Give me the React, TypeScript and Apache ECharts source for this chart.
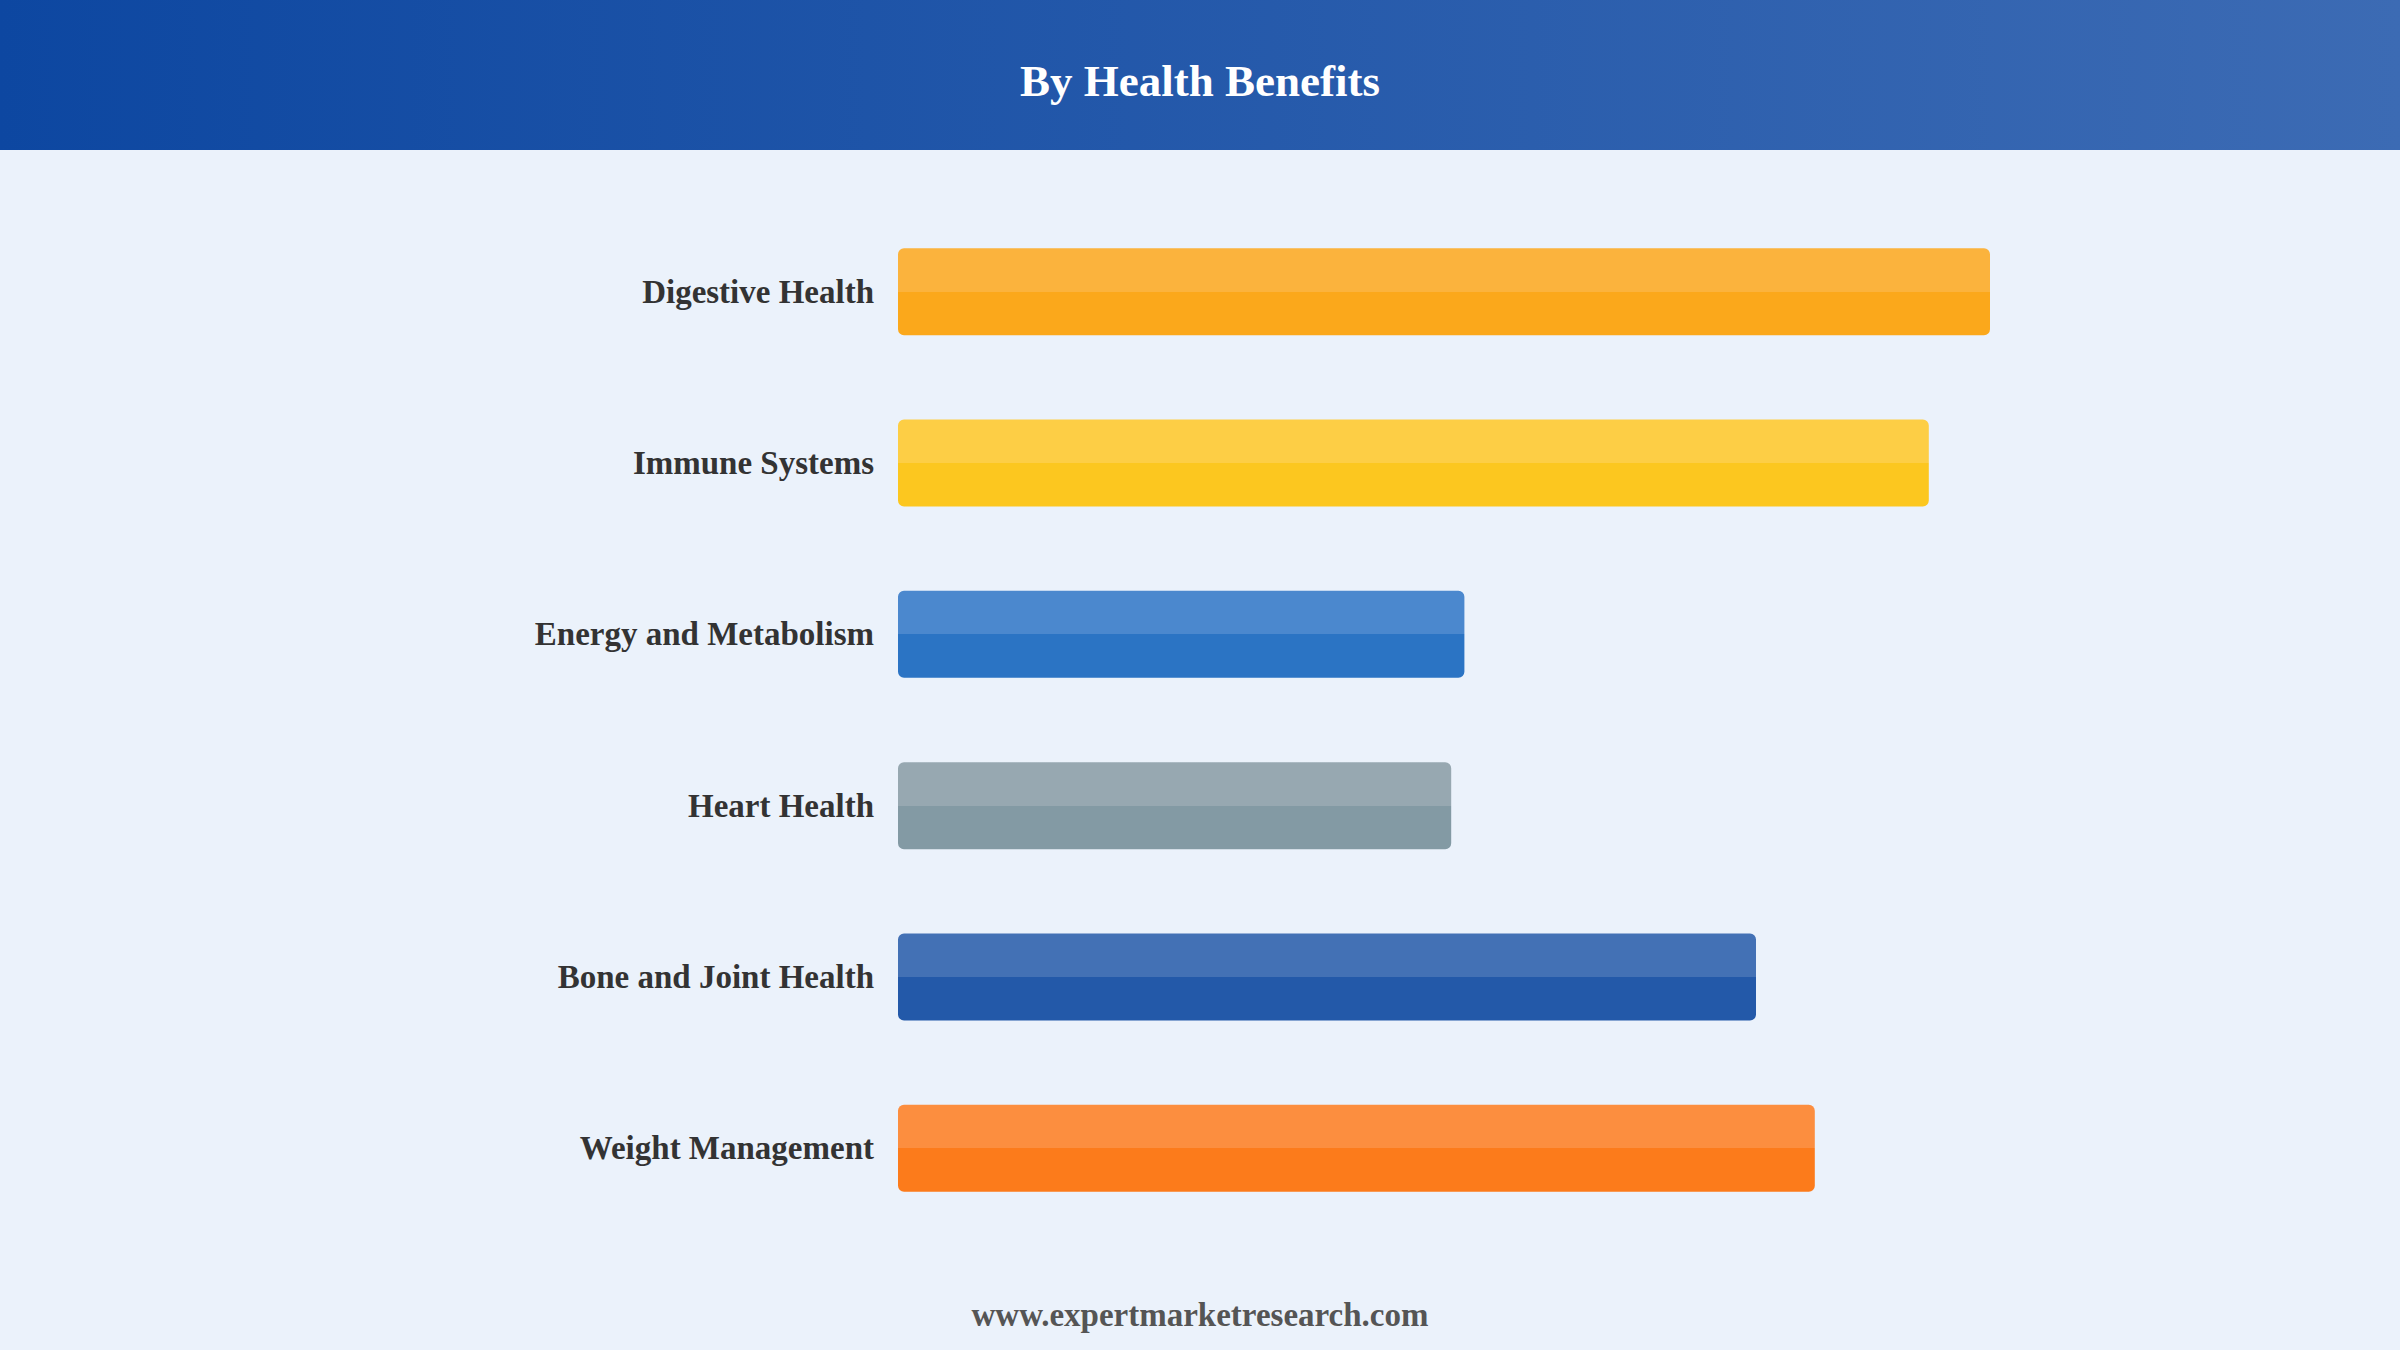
import { useEffect, useRef } from "react";
import * as echarts from "echarts";

const categories = [
  "Digestive Health",
  "Immune Systems",
  "Energy and Metabolism",
  "Heart Health",
  "Bone and Joint Health",
  "Weight Management",
];
const values = [91, 85.9, 47.2, 46.1, 71.5, 76.4];
const topColors = ["#FBB33D", "#FDCE45", "#4B88CE", "#97A8B1", "#4371B5", "#FC8E3F"];
const baseColors = ["#FBA81B", "#FCC71F", "#2B74C4", "#839AA4", "#2359A9", "#FC7B1B"];

const SERIF = "'Liberation Serif', 'Times New Roman', serif";

export default function App() {
  const chartRef = useRef<HTMLDivElement>(null);

  useEffect(() => {
    document.body.style.margin = "0";
    if (!chartRef.current) return;
    const chart = echarts.init(chartRef.current, undefined, { renderer: "svg" });

    // two-tone bars: lighter top half, base colour bottom half
    const data = values.map((v, i) => ({
      value: v,
      itemStyle: {
        borderRadius: 6,
        color: new echarts.graphic.LinearGradient(0, 0, 0, 1, [
          { offset: 0, color: topColors[i] },
          { offset: 0.5, color: topColors[i] },
          { offset: 0.5, color: baseColors[i] },
          { offset: 1, color: baseColors[i] },
        ]),
      },
    }));

    chart.setOption({
      animation: false,
      backgroundColor: "#EBF2FB",
      graphic: [
        {
          type: "rect",
          left: 0,
          top: 0,
          z: -1,
          shape: { width: 2400, height: 150 },
          style: {
            fill: new echarts.graphic.LinearGradient(0, 0, 1, 0, [
              { offset: 0, color: "#0D47A1" },
              { offset: 1, color: "#3C6BB4" },
            ]),
          },
        },
        {
          type: "text",
          x: 1200,
          y: 81,
          style: {
            text: "By Health Benefits",
            fill: "#FFFFFF",
            font: `bold 45px ${SERIF}`,
            textAlign: "center",
            textVerticalAlign: "middle",
          },
        },
        {
          type: "text",
          x: 1200,
          y: 1315,
          style: {
            text: "www.expertmarketresearch.com",
            fill: "#555555",
            font: `bold 33px ${SERIF}`,
            textAlign: "center",
            textVerticalAlign: "middle",
          },
        },
      ],
      grid: { left: 898, right: 302, top: 206, bottom: 116 },
      xAxis: {
        type: "value",
        min: 0,
        max: 100,
        show: false,
      },
      yAxis: {
        type: "category",
        data: categories,
        inverse: true,
        axisLine: { show: false },
        axisTick: { show: false },
        axisLabel: {
          margin: 24,
          fontSize: 33,
          fontWeight: "bold",
          fontFamily: SERIF,
          color: "#333333",
          padding: [3, 0, 0, 0],
        },
      },
      series: [
        {
          type: "bar",
          data,
          barWidth: 87,
        },
      ],
    });

    return () => chart.dispose();
  }, []);

  return <div ref={chartRef} style={{ width: 2400, height: 1350 }} />;
}
